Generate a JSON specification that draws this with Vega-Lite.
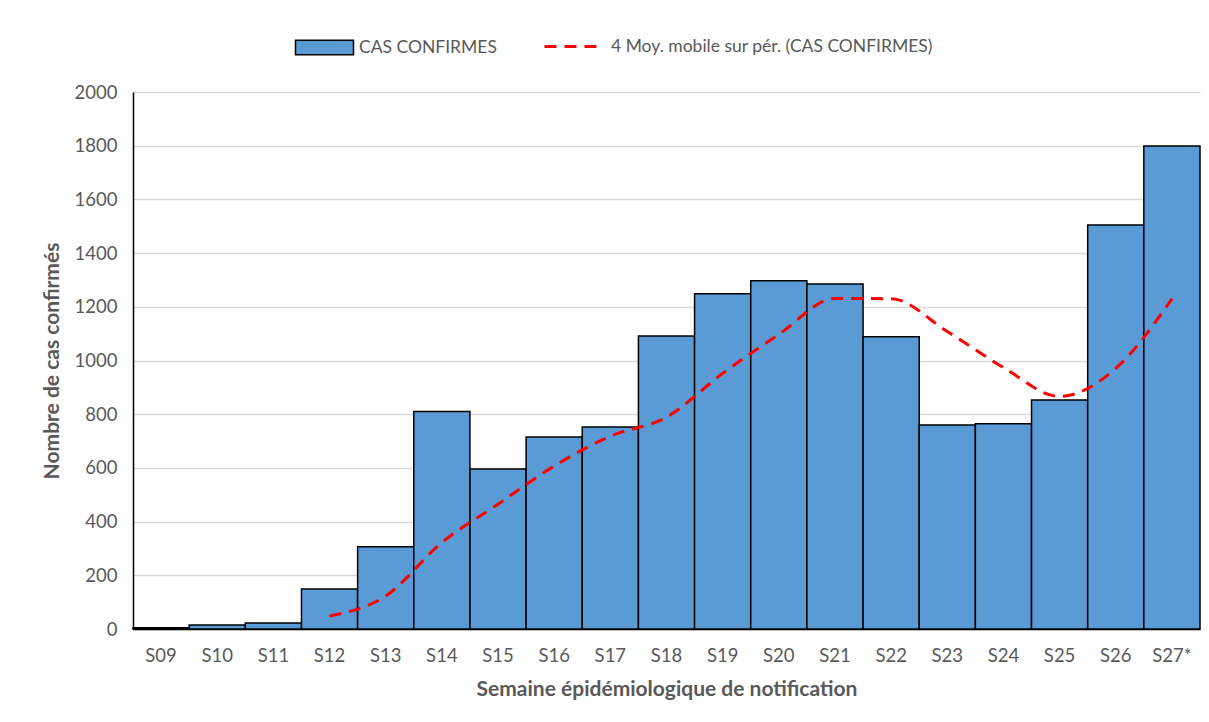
{
  "$schema": "https://vega.github.io/schema/vega-lite/v6.json",
  "autosize": "none",
  "width": 1067,
  "height": 537,
  "padding": {"left": 133, "top": 92, "right": 9, "bottom": 93},
  "background": "white",
  "config": {
    "font": "Lato",
    "view": {"stroke": null},
    "axis": {"labelFont": "Lato", "titleFont": "Lato", "labelColor": "#595959", "titleColor": "#595959"}
  },
  "data": {
    "values": [
      {"semaine": "S09", "cas": 5, "moy": null},
      {"semaine": "S10", "cas": 15, "moy": null},
      {"semaine": "S11", "cas": 22, "moy": null},
      {"semaine": "S12", "cas": 149, "moy": 48},
      {"semaine": "S13", "cas": 306, "moy": 123},
      {"semaine": "S14", "cas": 810, "moy": 322},
      {"semaine": "S15", "cas": 596, "moy": 465},
      {"semaine": "S16", "cas": 715, "moy": 607},
      {"semaine": "S17", "cas": 752, "moy": 718},
      {"semaine": "S18", "cas": 1091, "moy": 789},
      {"semaine": "S19", "cas": 1249, "moy": 952},
      {"semaine": "S20", "cas": 1297, "moy": 1097},
      {"semaine": "S21", "cas": 1285, "moy": 1231},
      {"semaine": "S22", "cas": 1088, "moy": 1230},
      {"semaine": "S23", "cas": 760, "moy": 1108},
      {"semaine": "S24", "cas": 764, "moy": 974},
      {"semaine": "S25", "cas": 853, "moy": 866},
      {"semaine": "S26", "cas": 1505, "moy": 971},
      {"semaine": "S27*", "cas": 1799, "moy": 1230}
    ]
  },
  "encoding": {
    "x": {
      "field": "semaine",
      "type": "nominal",
      "sort": null,
      "scale": {"paddingInner": 0, "paddingOuter": 0},
      "axis": {
        "title": "Semaine épidémiologique de notification",
        "labelAngle": 0,
        "ticks": false,
        "domainColor": "black",
        "domainWidth": 1.5,
        "labelFontSize": 18.5,
        "labelPadding": 17,
        "titleFontSize": 21,
        "titleFontWeight": "bold",
        "titlePadding": 14
      }
    }
  },
  "layer": [
    {
      "mark": {"type": "bar", "stroke": "black", "strokeWidth": 1.5},
      "encoding": {
        "y": {
          "field": "cas",
          "type": "quantitative",
          "scale": {"domain": [0, 2000]},
          "axis": {
            "title": "Nombre de cas confirmés",
            "values": [0, 200, 400, 600, 800, 1000, 1200, 1400, 1600, 1800, 2000],
            "format": "d",
            "ticks": false,
            "domain": true,
            "domainColor": "black",
            "domainWidth": 1.5,
            "gridColor": "#D9D9D9",
            "gridWidth": 1.5,
            "labelFontSize": 18.5,
            "labelPadding": 16,
            "titleFontSize": 21,
            "titleFontWeight": "bold",
            "titlePadding": 12
          }
        },
        "fill": {
          "datum": "CAS CONFIRMES",
          "scale": {"range": ["#5B9BD5"]},
          "legend": {
            "title": null,
            "orient": "none",
            "legendX": 176,
            "legendY": -60,
            "symbolType": "M-2,-0.5H2V0.5H-2Z",
            "symbolSize": 841,
            "symbolStrokeColor": "black",
            "symbolStrokeWidth": 1.5,
            "symbolOpacity": 1,
            "labelFontSize": 17.5,
            "labelColor": "#595959",
            "labelOffset": 19,
            "labelLimit": 600,
            "padding": 0
          }
        }
      }
    },
    {
      "mark": {"type": "line", "interpolate": "monotone", "strokeWidth": 3, "strokeDash": [12, 8]},
      "transform": [{"filter": "datum.moy != null"}],
      "encoding": {
        "y": {"field": "moy", "type": "quantitative"},
        "stroke": {
          "datum": "4 Moy. mobile sur pér. (CAS CONFIRMES)",
          "scale": {"range": ["#FF0000"]},
          "legend": {
            "title": null,
            "orient": "none",
            "legendX": 410,
            "legendY": -77,
            "symbolType": "stroke",
            "symbolSize": 3600,
            "symbolStrokeWidth": 3,
            "symbolDash": [12, 8],
            "labelFontSize": 17.5,
            "labelColor": "#595959",
            "labelOffset": 5,
            "labelLimit": 600,
            "padding": 0
          }
        }
      }
    }
  ]
}
